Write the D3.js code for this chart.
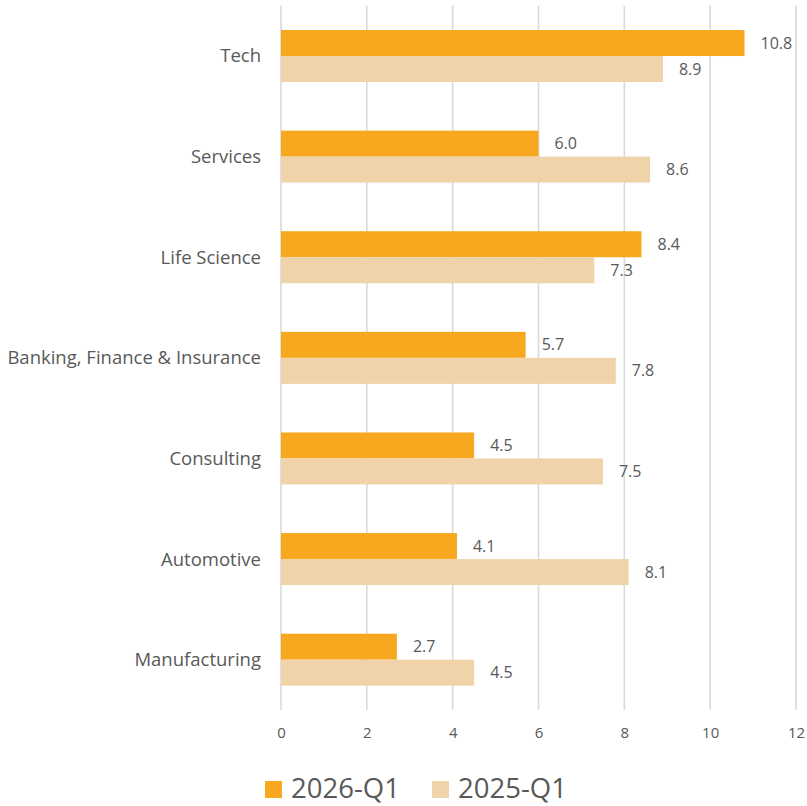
<!DOCTYPE html>
<html>
<head>
<meta charset="utf-8">
<script src="https://cdn.jsdelivr.net/npm/d3@7"></script>
<style>
  body { margin: 0; background: #fff; }
  svg text { font-family: "Open Sans", "Noto Sans", sans-serif; fill: #595959; }
</style>
</head>
<body>
<div id="chart"></div>
<script>
// data
var categories = ["Tech", "Services", "Life Science", "Banking, Finance & Insurance", "Consulting", "Automotive", "Manufacturing"];
var seriesNames = ["2026-Q1", "2025-Q1"];
var q2026 = [10.8, 6.0, 8.4, 5.7, 4.5, 4.1, 2.7];
var q2025 = [8.9, 8.6, 7.3, 7.8, 7.5, 8.1, 4.5];
var xTicks = [0, 2, 4, 6, 8, 10, 12];
var colors = ["#F8A81E", "#F0D3A8"];

var width = 807, height = 806;
var margin = { top: 5.7, right: 11, bottom: 96, left: 281 };
var innerW = width - margin.left - margin.right,
    innerH = height - margin.top - margin.bottom;

var rows = categories.map(function(c, i) {
  return { name: c, values: [q2026[i], q2025[i]] };
});

var svg = d3.select("#chart").append("svg")
  .attr("width", width)
  .attr("height", height);

var g = svg.append("g")
  .attr("transform", "translate(" + margin.left + "," + margin.top + ")");

var x = d3.scaleLinear().domain([0, 12]).range([0, innerW]);

var y0 = d3.scaleBand().domain(categories).range([0, innerH]).padding(0);
var y1 = d3.scaleBand().domain(seriesNames).range([0, y0.bandwidth()])
  .paddingInner(0).paddingOuter(0.935);

// gridlines
g.selectAll(".grid")
  .data(xTicks).enter()
  .append("line")
  .attr("class", "grid")
  .attr("x1", function(d) { return x(d); })
  .attr("x2", function(d) { return x(d); })
  .attr("y1", 0)
  .attr("y2", innerH)
  .attr("stroke", "#D9D9D9")
  .attr("stroke-width", 1.6);

// x axis, labels only
var xAxis = d3.axisBottom(x).tickValues(xTicks).tickSize(0).tickPadding(17);
var ax = g.append("g")
  .attr("transform", "translate(0," + innerH + ")")
  .call(xAxis);
ax.select(".domain").remove();
ax.selectAll("text").style("font-size", "15px").attr("fill", "#595959");

// category labels
g.selectAll(".cat")
  .data(categories).enter()
  .append("text")
  .attr("class", "cat")
  .attr("x", -20)
  .attr("y", function(d) { return y0(d) + y0.bandwidth() / 2; })
  .attr("dy", "0.35em")
  .attr("text-anchor", "end")
  .style("font-size", "18.5px")
  .text(function(d) { return d; });

var grp = g.selectAll(".grp")
  .data(rows).enter()
  .append("g")
  .attr("class", "grp")
  .attr("transform", function(d) { return "translate(0," + y0(d.name) + ")"; });

grp.selectAll("rect")
  .data(function(d) { return d.values; })
  .enter().append("rect")
  .attr("x", 0)
  .attr("y", function(d, i) { return y1(seriesNames[i]); })
  .attr("height", y1.bandwidth())
  .attr("width", function(d) { return x(d); })
  .attr("fill", function(d, i) { return colors[i]; });

grp.selectAll(".val")
  .data(function(d) { return d.values; })
  .enter().append("text")
  .attr("class", "val")
  .attr("x", function(d) { return x(d) + 16; })
  .attr("y", function(d, i) { return y1(seriesNames[i]) + y1.bandwidth() / 2; })
  .attr("dy", "0.35em")
  .style("font-size", "16px")
  .text(function(d) { return d3.format(".1f")(d); });

// legend
var legendX = [265, 432];
var legend = svg.selectAll(".legend")
  .data(seriesNames).enter()
  .append("g")
  .attr("class", "legend")
  .attr("transform", function(d, i) { return "translate(" + legendX[i] + ",781)"; });

legend.append("rect")
  .attr("width", 17).attr("height", 17)
  .attr("fill", function(d, i) { return colors[i]; });

legend.append("text")
  .attr("x", 26)
  .attr("y", 17)
  .style("font-size", "27.5px")
  .text(function(d) { return d; });
</script>
</body>
</html>
